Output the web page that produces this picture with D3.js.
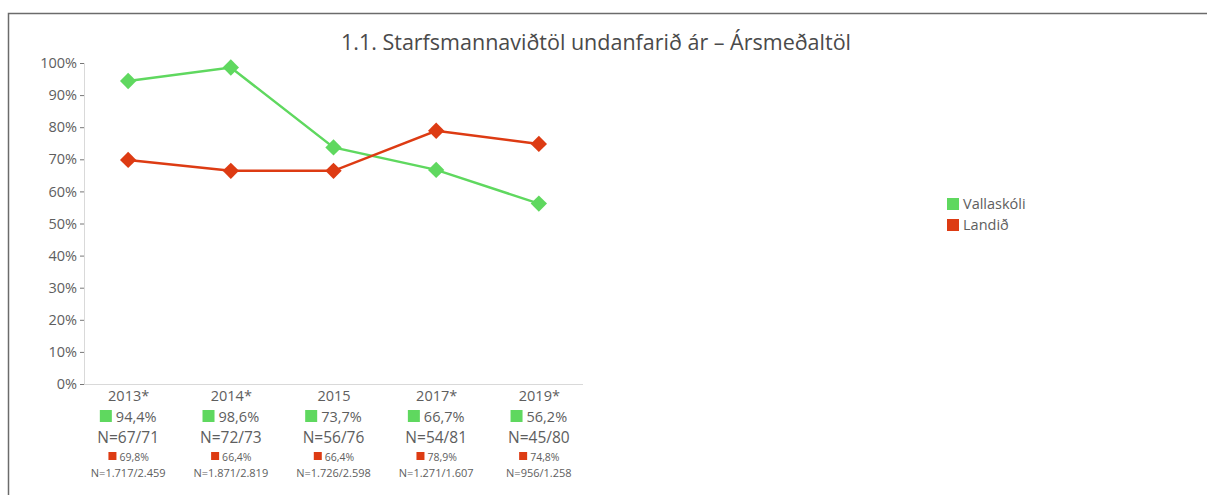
<!DOCTYPE html>
<html>
<head>
<meta charset="utf-8">
<script src="https://cdn.jsdelivr.net/npm/d3@7"></script>
<style>
  body { margin: 0; background: #fff; }
  svg { display: block; font-family: 'Open Sans', 'Noto Sans', sans-serif; }
</style>
</head>
<body>
<div id="chart"></div>
<script>
const title = '1.1. Starfsmannaviðtöl undanfarið ár – Ársmeðaltöl'
const years = ['2013*', '2014*', '2015', '2017*', '2019*']
const schoolName = 'Vallaskóli'
const countryName = 'Landið'
const school = [94.4, 98.6, 73.7, 66.7, 56.2]
const country = [69.8, 66.4, 66.4, 78.9, 74.8]
const schoolN = ['N=67/71', 'N=72/73', 'N=56/76', 'N=54/81', 'N=45/80']
const countryN = ['N=1.717/2.459', 'N=1.871/2.819', 'N=1.726/2.598', 'N=1.271/1.607', 'N=956/1.258']
const yTicks = [0, 10, 20, 30, 40, 50, 60, 70, 80, 90, 100]

const green = '#5fd85f'
const red = '#dd3b13'
const textCol = '#5e5e5e'

const width = 1207, height = 495
const margin = { top: 63, left: 84, right: 624, bottom: 111 }

const fmt = (v) => v.toFixed(1).replace('.', ',') + '%'

const svg = d3.select('#chart').append('svg')
  .attr('width', width)
  .attr('height', height)

// frame
svg.append('path')
  .attr('d', `M8.5,${height + 2} V13.5 H${width + 2}`)
  .attr('fill', 'none')
  .attr('stroke', '#6b6b6b')
  .attr('stroke-width', 1.5)

svg.append('text')
  .attr('x', 596)
  .attr('y', 50)
  .attr('text-anchor', 'middle')
  .attr('font-size', 21.5)
  .attr('fill', '#4a4a4a')
  .text(title)

const x = d3.scalePoint()
  .domain(years)
  .range([margin.left, width - margin.right])
  .padding(0.43)

const y = d3.scaleLinear()
  .domain([0, 100])
  .range([height - margin.bottom, margin.top])

// y axis
const yAxis = svg.append('g')
  .attr('transform', `translate(${margin.left},0)`)
  .call(d3.axisLeft(y).tickValues(yTicks).tickFormat(d => d + '%').tickSize(4).tickPadding(3))
yAxis.select('.domain').attr('stroke', '#d9d9d9')
yAxis.selectAll('.tick line').attr('stroke', '#777')
yAxis.selectAll('.tick text').attr('fill', textCol).attr('font-size', 14.5)
  .attr('font-family', "'Open Sans', sans-serif")

// x axis
const xAxis = svg.append('g')
  .attr('transform', `translate(0,${y(0)})`)
  .call(d3.axisBottom(x).tickSize(0).tickPadding(7))
xAxis.select('.domain').attr('stroke', '#d9d9d9')
  .attr('d', `M${margin.left},0.5H${width - margin.right}`)
xAxis.selectAll('.tick text').attr('fill', textCol).attr('font-size', 14.5)
  .attr('font-family', "'Open Sans', sans-serif")

// per-category labels below the axis
const lab = svg.append('g')
years.forEach((yr, i) => {
  const cx = x(yr)
  const g = lab.append('g').attr('transform', `translate(${cx},0)`)
  const t1 = g.append('text')
    .attr('y', 422)
    .attr('font-size', 14.5)
    .attr('fill', textCol)
    .attr('text-anchor', 'middle')
    .text(fmt(school[i]))
  const w1 = t1.node().getComputedTextLength()
  t1.attr('x', 8)
  g.append('rect')
    .attr('x', 8 - w1 / 2 - 16).attr('y', 410)
    .attr('width', 12).attr('height', 12)
    .attr('fill', green)
  g.append('text')
    .attr('y', 443)
    .attr('font-size', 15.5)
    .attr('fill', textCol)
    .attr('text-anchor', 'middle')
    .text(schoolN[i])
  const t2 = g.append('text')
    .attr('y', 461)
    .attr('x', 6)
    .attr('font-size', 10.5)
    .attr('fill', textCol)
    .attr('text-anchor', 'middle')
    .text(fmt(country[i]))
  const w2 = t2.node().getComputedTextLength()
  g.append('rect')
    .attr('x', 6 - w2 / 2 - 11).attr('y', 452)
    .attr('width', 8).attr('height', 8)
    .attr('fill', red)
  g.append('text')
    .attr('y', 477)
    .attr('font-size', 11)
    .attr('fill', textCol)
    .attr('text-anchor', 'middle')
    .text(countryN[i])
})

// lines
const series = [
  { name: schoolName, values: school, color: green },
  { name: countryName, values: country, color: red }
]
const line = d3.line()
  .x((d, i) => x(years[i]))
  .y(d => y(d))

series.forEach(s => {
  svg.append('path')
    .datum(s.values)
    .attr('d', line)
    .attr('fill', 'none')
    .attr('stroke', s.color)
    .attr('stroke-width', 2.5)
  svg.append('g').selectAll('path')
    .data(s.values)
    .join('path')
    .attr('d', d3.symbol(d3.symbolDiamond2, 170))
    .attr('transform', (d, i) => `translate(${x(years[i])},${y(d)})`)
    .attr('fill', s.color)
})

// legend
const legend = svg.append('g').attr('transform', 'translate(947,198)')
series.forEach((s, i) => {
  legend.append('rect')
    .attr('x', 0).attr('y', i * 21)
    .attr('width', 12).attr('height', 12)
    .attr('fill', s.color)
  legend.append('text')
    .attr('x', 16).attr('y', i * 21 + 11)
    .attr('font-size', 14.5)
    .attr('fill', textCol)
    .text(s.name)
})
</script>
</body>
</html>
